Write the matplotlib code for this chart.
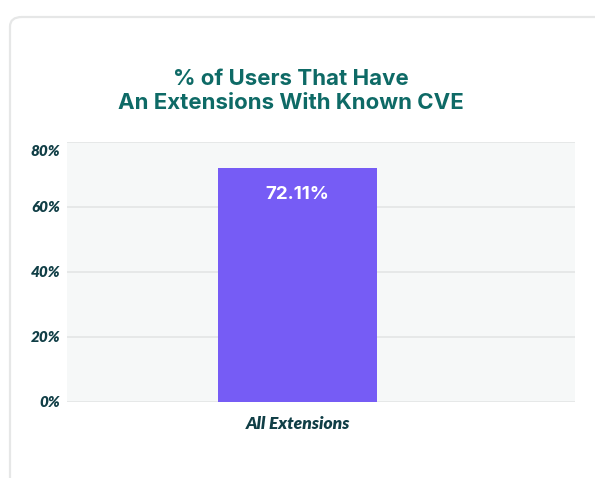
import matplotlib
matplotlib.use("Agg")
import matplotlib.pyplot as plt
import matplotlib.transforms as mtransforms
from matplotlib.patches import FancyBboxPatch

categories = ["All Extensions"]
values = [72.11]
y_ticks = [0, 20, 40, 60, 80]
y_tick_labels = ["0%", "20%", "40%", "60%", "80%"]
title = "% of Users That Have\nAn Extensions With Known CVE"

W, H = 595, 478
fig = plt.figure(figsize=(W / 100, H / 100), dpi=100)
fig.patch.set_facecolor("white")

# card outline behind everything
card = FancyBboxPatch((10 / W, -0.1), 1.2, (H - 17) / H + 0.1,
                      boxstyle="round,pad=0,rounding_size=0.02",
                      transform=fig.transFigure, facecolor="white",
                      edgecolor="#e6e7e7", linewidth=1.6, zorder=-1)
fig.patches.append(card)

ax = fig.add_axes([67 / W, 76.3 / H, 508 / W, 259.7 / H])
ax.set_zorder(1)
ax.set_facecolor("#f6f8f8")
for s in ax.spines.values():
    s.set_visible(False)

x = list(range(len(categories)))
bars = ax.bar(x, values, width=0.5, color="#765cf5", zorder=3)
ax.set_xlim(-0.7246, 0.872)
ax.set_ylim(0, 80)

ax.set_yticks(y_ticks)
ax.set_yticklabels(y_tick_labels)
ax.set_xticks(x)
ax.set_xticklabels(categories)
ax.grid(axis="y", color="#e3e5e5", linewidth=1.2, zorder=1)
ax.tick_params(axis="both", length=0, colors="#103e46")
ax.tick_params(axis="y", pad=5)
ax.tick_params(axis="x", pad=10)

for lab in ax.get_yticklabels():
    lab.set_fontfamily("Lato")
    lab.set_fontweight("heavy")
    lab.set_fontstyle("italic")
    lab.set_fontsize(11)
for lab in ax.get_xticklabels():
    lab.set_fontfamily("Lato")
    lab.set_fontweight("heavy")
    lab.set_fontstyle("italic")
    lab.set_fontsize(12.5)

# top label sits a little under its gridline
top = ax.get_yticklabels()[-1]
top.set_transform(top.get_transform() +
                  mtransforms.ScaledTranslation(0, -8 / 100, fig.dpi_scale_trans))

for b, v in zip(bars, values):
    ax.annotate(f"{v:.2f}%", (b.get_x() + b.get_width() / 2, v),
                xytext=(0, -13), textcoords="offset points", ha="center",
                va="top", color="white", fontsize=13.5, fontweight="bold",
                family="Inter", zorder=4)

fig.text(291 / W, 1 - 91 / H, title, ha="center", va="center",
         color="#0e6a66", fontsize=16, fontweight="bold", family="Inter",
         linespacing=1.3)

fig.savefig("out.png", dpi=100)
